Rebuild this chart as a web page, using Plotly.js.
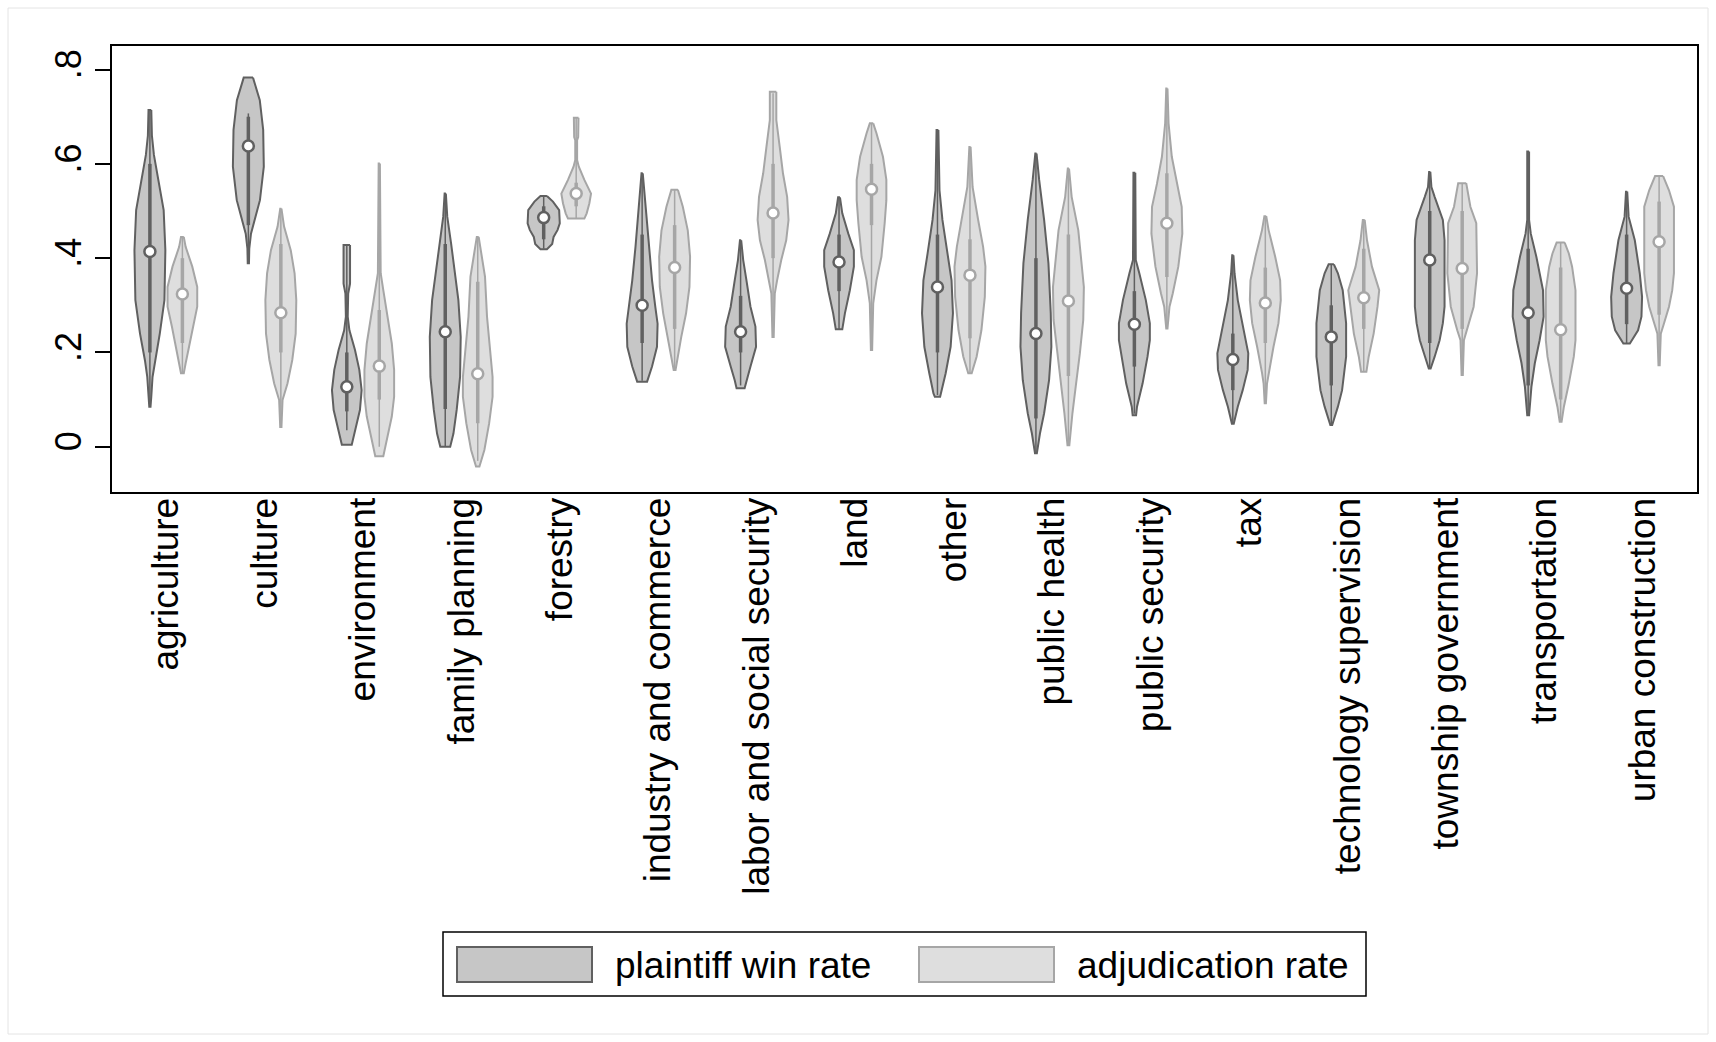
<!DOCTYPE html>
<html>
<head>
<meta charset="utf-8">
<script src="https://cdn.plot.ly/plotly-3.0.1.min.js"></script>
<style>html,body{margin:0;padding:0;background:#fff}#chart{width:1716px;height:1042px}</style>
</head>
<body>
<div id="chart"></div>
<script>
// ---------------- data ----------------
const categories = ["agriculture","culture","environment","family planning","forestry",
  "industry and commerce","labor and social security","land","other","public health",
  "public security","tax","technology supervision","township government","transportation",
  "urban construction"];
const seriesNames = ["plaintiff win rate", "adjudication rate"];

// plaintiff win rate
const winMedian = [0.414,0.638,0.127,0.244,0.486,0.300,0.244,0.392,0.339,0.240,0.260,0.185,0.233,0.396,0.284,0.336];
const winQ1     = [0.200,0.470,0.075,0.080,0.440,0.220,0.200,0.330,0.200,0.060,0.170,0.120,0.130,0.220,0.130,0.260];
const winQ3     = [0.600,0.700,0.200,0.430,0.510,0.450,0.320,0.450,0.450,0.400,0.330,0.240,0.300,0.500,0.420,0.450];
const winLo     = [0.085,0.390,0.035,0.000,0.420,0.140,0.130,0.250,0.110,-0.015,0.070,0.050,0.046,0.166,0.067,0.219];
const winHi     = [0.714,0.707,0.430,0.537,0.532,0.580,0.438,0.529,0.672,0.622,0.581,0.406,0.387,0.583,0.626,0.541];
// density profiles: [value, relative density], top to bottom
const winProfile = [
  [[0.714,0.09],[0.66,0.13],[0.619,0.26],[0.559,0.6],[0.502,0.89],[0.417,1.0],[0.311,0.94],[0.24,0.64],[0.183,0.32],[0.148,0.17],[0.106,0.09],[0.085,0.04]],
  [[0.783,0.3],[0.735,0.74],[0.672,0.96],[0.594,1.0],[0.523,0.75],[0.488,0.47],[0.452,0.17],[0.42,0.06],[0.389,0.04]],
  [[0.428,0.21],[0.346,0.21],[0.325,0.09],[0.3,0.06],[0.276,0.06],[0.247,0.17],[0.205,0.53],[0.163,0.81],[0.12,0.96],[0.078,0.85],[0.035,0.53],[0.004,0.32]],
  [[0.537,0.04],[0.488,0.13],[0.431,0.38],[0.361,0.64],[0.311,0.85],[0.233,1.0],[0.148,0.96],[0.078,0.74],[0.028,0.53],[0.0,0.32]],
  [[0.532,0.21],[0.52,0.6],[0.502,1.0],[0.474,1.04],[0.46,0.9],[0.445,0.64],[0.43,0.55],[0.419,0.21]],
  [[0.58,0.04],[0.53,0.17],[0.481,0.3],[0.424,0.43],[0.353,0.64],[0.297,0.85],[0.261,1.0],[0.212,0.96],[0.17,0.64],[0.138,0.32]],
  [[0.438,0.04],[0.396,0.17],[0.353,0.38],[0.297,0.64],[0.255,0.96],[0.212,1.0],[0.17,0.64],[0.141,0.38],[0.124,0.26]],
  [[0.529,0.06],[0.495,0.21],[0.452,0.6],[0.417,0.96],[0.382,0.96],[0.332,0.7],[0.283,0.38],[0.249,0.21]],
  [[0.672,0.06],[0.544,0.13],[0.481,0.32],[0.41,0.64],[0.353,0.91],[0.283,1.0],[0.212,0.85],[0.156,0.53],[0.113,0.26],[0.106,0.17]],
  [[0.622,0.04],[0.566,0.21],[0.481,0.53],[0.389,0.81],[0.283,0.96],[0.212,1.0],[0.141,0.85],[0.071,0.53],[0.028,0.26],[-0.014,0.06]],
  [[0.581,0.06],[0.396,0.09],[0.368,0.32],[0.311,0.74],[0.262,1.0],[0.226,1.0],[0.191,0.85],[0.134,0.53],[0.085,0.17],[0.067,0.11]],
  [[0.406,0.04],[0.368,0.11],[0.311,0.32],[0.24,0.74],[0.198,1.0],[0.163,0.96],[0.12,0.64],[0.085,0.32],[0.049,0.06]],
  [[0.387,0.17],[0.368,0.43],[0.332,0.74],[0.262,0.96],[0.191,0.96],[0.12,0.7],[0.085,0.43],[0.046,0.06]],
  [[0.583,0.04],[0.551,0.11],[0.53,0.32],[0.481,0.85],[0.438,0.96],[0.297,0.96],[0.262,0.85],[0.226,0.64],[0.191,0.32],[0.166,0.06]],
  [[0.626,0.06],[0.481,0.06],[0.452,0.17],[0.403,0.53],[0.332,0.96],[0.276,1.0],[0.226,0.74],[0.177,0.43],[0.127,0.21],[0.067,0.06]],
  [[0.541,0.04],[0.488,0.13],[0.438,0.53],[0.368,0.85],[0.318,1.0],[0.276,0.96],[0.247,0.74],[0.219,0.21]]
];

// adjudication rate
const adjMedian = [0.324,0.284,0.171,0.155,0.537,0.380,0.496,0.546,0.364,0.309,0.474,0.305,0.316,0.378,0.248,0.435];
const adjQ1     = [0.220,0.200,0.100,0.050,0.510,0.250,0.400,0.470,0.230,0.150,0.360,0.220,0.250,0.250,0.100,0.280];
const adjQ3     = [0.400,0.430,0.290,0.350,0.560,0.470,0.600,0.600,0.440,0.450,0.580,0.380,0.420,0.500,0.380,0.520];
const adjLo     = [0.156,0.042,0.000,-0.030,0.484,0.163,0.233,0.205,0.156,0.003,0.251,0.092,0.159,0.152,0.053,0.173];
const adjHi     = [0.445,0.505,0.601,0.445,0.698,0.545,0.750,0.686,0.636,0.590,0.760,0.489,0.481,0.559,0.433,0.574];
const adjProfile = [
  [[0.445,0.09],[0.424,0.21],[0.382,0.64],[0.339,0.96],[0.297,0.96],[0.255,0.68],[0.212,0.43],[0.177,0.21],[0.156,0.09]],
  [[0.505,0.04],[0.467,0.21],[0.417,0.64],[0.368,0.89],[0.311,1.0],[0.24,0.96],[0.184,0.74],[0.134,0.43],[0.099,0.11],[0.07,0.06],[0.042,0.04]],
  [[0.601,0.04],[0.368,0.09],[0.332,0.26],[0.276,0.53],[0.219,0.81],[0.163,0.96],[0.106,0.96],[0.064,0.81],[0.022,0.53],[-0.02,0.26]],
  [[0.445,0.06],[0.417,0.21],[0.361,0.47],[0.276,0.6],[0.205,0.81],[0.148,0.96],[0.106,0.96],[0.05,0.74],[-0.007,0.43],[-0.042,0.11]],
  [[0.698,0.15],[0.657,0.13],[0.65,0.06],[0.608,0.06],[0.594,0.17],[0.566,0.53],[0.537,0.96],[0.516,0.85],[0.495,0.68],[0.484,0.53]],
  [[0.545,0.21],[0.509,0.53],[0.459,0.85],[0.403,1.0],[0.339,0.96],[0.283,0.74],[0.233,0.43],[0.191,0.21],[0.163,0.06]],
  [[0.753,0.21],[0.693,0.21],[0.636,0.43],[0.58,0.64],[0.53,0.91],[0.481,1.0],[0.438,0.85],[0.396,0.53],[0.353,0.26],[0.325,0.11],[0.233,0.04]],
  [[0.686,0.11],[0.665,0.32],[0.615,0.74],[0.566,0.96],[0.523,0.96],[0.474,0.85],[0.403,0.64],[0.353,0.32],[0.304,0.11],[0.205,0.04]],
  [[0.636,0.04],[0.551,0.17],[0.481,0.53],[0.424,0.85],[0.382,1.0],[0.318,0.96],[0.247,0.74],[0.191,0.43],[0.156,0.11]],
  [[0.59,0.04],[0.53,0.21],[0.459,0.64],[0.389,0.85],[0.339,1.0],[0.269,0.96],[0.198,0.74],[0.127,0.47],[0.071,0.26],[0.003,0.06]],
  [[0.76,0.04],[0.686,0.11],[0.615,0.32],[0.558,0.64],[0.509,0.96],[0.452,1.0],[0.382,0.74],[0.325,0.38],[0.297,0.17],[0.251,0.04]],
  [[0.489,0.06],[0.46,0.21],[0.403,0.64],[0.353,0.96],[0.311,1.0],[0.262,0.85],[0.212,0.53],[0.156,0.21],[0.134,0.11],[0.092,0.04]],
  [[0.481,0.06],[0.438,0.21],[0.382,0.53],[0.332,1.0],[0.297,0.89],[0.24,0.64],[0.191,0.32],[0.159,0.17]],
  [[0.559,0.26],[0.509,0.53],[0.474,0.91],[0.368,0.96],[0.297,0.74],[0.247,0.32],[0.226,0.11],[0.152,0.04]],
  [[0.433,0.26],[0.41,0.53],[0.382,0.74],[0.332,0.96],[0.226,0.96],[0.191,0.85],[0.134,0.53],[0.085,0.21],[0.053,0.06]],
  [[0.574,0.26],[0.544,0.64],[0.509,0.96],[0.368,0.96],[0.332,0.85],[0.297,0.64],[0.262,0.32],[0.24,0.11],[0.173,0.04]]
];

const yTickVals = [0, 0.2, 0.4, 0.6, 0.8];
const yTickText = ["0", ".2", ".4", ".6", ".8"];

// ---------------- styles ----------------
const FONT = "Liberation Sans, Arial, sans-serif";
const styles = [
  {fill: "#c6c6c6", line: "#606060", offset: -0.165},
  {fill: "#dedede", line: "#a6a6a6", offset: 0.165}
];
const HALF_W = 0.157; // x-units of half width for relative density 1

const series = [
  {name: seriesNames[0], med: winMedian, q1: winQ1, q3: winQ3, lo: winLo, hi: winHi, prof: winProfile},
  {name: seriesNames[1], med: adjMedian, q1: adjQ1, q3: adjQ3, lo: adjLo, hi: adjHi, prof: adjProfile}
];

const traces = [];
// violin bodies
series.forEach((s, si) => {
  const st = styles[si];
  s.prof.forEach((prof, ci) => {
    const c = ci + st.offset;
    const xs = [], ys = [];
    prof.forEach(p => { xs.push(c + p[1] * HALF_W); ys.push(p[0]); });
    for (let k = prof.length - 1; k >= 0; k--) { xs.push(c - prof[k][1] * HALF_W); ys.push(prof[k][0]); }
    xs.push(xs[0]); ys.push(ys[0]);
    traces.push({type: "scatter", mode: "lines", x: xs, y: ys, fill: "toself",
      fillcolor: st.fill, line: {color: st.line, width: 2}, hoverinfo: "skip", showlegend: false});
  });
});
// whiskers, boxes, medians
series.forEach((s, si) => {
  const st = styles[si];
  const wx = [], wy = [], bx = [], by = [], mx = [];
  categories.forEach((cat, ci) => {
    const c = ci + st.offset;
    wx.push(c, c, null); wy.push(s.lo[ci], s.hi[ci], null);
    bx.push(c, c, null); by.push(s.q1[ci], s.q3[ci], null);
    mx.push(c);
  });
  traces.push({type: "scatter", mode: "lines", x: wx, y: wy, line: {color: st.line, width: 1.5},
    hoverinfo: "skip", showlegend: false});
  traces.push({type: "scatter", mode: "lines", x: bx, y: by, line: {color: st.line, width: 3.5},
    hoverinfo: "skip", showlegend: false});
  traces.push({type: "scatter", mode: "markers", x: mx, y: s.med, name: s.name,
    marker: {symbol: "circle", size: 11, color: "#ffffff", line: {color: st.line, width: 2.5}},
    showlegend: false});
});

// ---------------- layout ----------------
const PL = 112, PR = 1697, PT = 46, PB = 492;
const px = v => (v - PL) / (PR - PL);
const py = v => (PB - v) / (PB - PT);

const shapes = [
  // outer graph region border
  {type: "rect", xref: "paper", yref: "paper", x0: px(8), x1: px(1708), y0: py(1034), y1: py(8),
   line: {color: "#e4e4e4", width: 1}, fillcolor: "rgba(0,0,0,0)", layer: "below"},
  // legend box
  {type: "rect", xref: "paper", yref: "paper", x0: px(443), x1: px(1366), y0: py(996), y1: py(932),
   line: {color: "#000", width: 1.5}, fillcolor: "#fff"},
  {type: "rect", xref: "paper", yref: "paper", x0: px(457), x1: px(592), y0: py(982), y1: py(947),
   line: {color: styles[0].line, width: 2}, fillcolor: styles[0].fill},
  {type: "rect", xref: "paper", yref: "paper", x0: px(919), x1: px(1054), y0: py(982), y1: py(947),
   line: {color: styles[1].line, width: 2}, fillcolor: styles[1].fill}
];
const annotations = [
  {xref: "paper", yref: "paper", x: px(613), y: py(965), xanchor: "left", yanchor: "middle",
   text: seriesNames[0], showarrow: false, font: {family: FONT, size: 37, color: "#000"}},
  {xref: "paper", yref: "paper", x: px(1075), y: py(965), xanchor: "left", yanchor: "middle",
   text: seriesNames[1], showarrow: false, font: {family: FONT, size: 37, color: "#000"}}
];

const layout = {
  width: 1716, height: 1042,
  margin: {l: PL, r: 1716 - PR, t: PT, b: 1042 - PB, pad: 0},
  paper_bgcolor: "#ffffff", plot_bgcolor: "#ffffff",
  showlegend: false,
  font: {family: FONT, color: "#000"},
  xaxis: {range: [-0.55, 15.55], tickmode: "array", tickvals: categories.map((c, i) => i),
    ticktext: categories, tickangle: -90, ticks: "", ticklabelstandoff: -11,
    showgrid: false, zeroline: false,
    showline: true, mirror: true, linecolor: "#000", linewidth: 2,
    tickfont: {family: FONT, size: 37, color: "#000"}, automargin: false, fixedrange: true},
  yaxis: {range: [-0.096, 0.85], tickmode: "array", tickvals: yTickVals, ticktext: yTickText,
    tickangle: -90, ticks: "outside", ticklen: 15, tickwidth: 2, tickcolor: "#000",
    showgrid: false, zeroline: false, showline: true, mirror: true, linecolor: "#000", linewidth: 2,
    tickfont: {family: FONT, size: 36, color: "#000"}, automargin: false, fixedrange: true},
  shapes: shapes,
  annotations: annotations
};

Plotly.newPlot("chart", traces, layout, {displayModeBar: false, staticPlot: true});
</script>
</body>
</html>
